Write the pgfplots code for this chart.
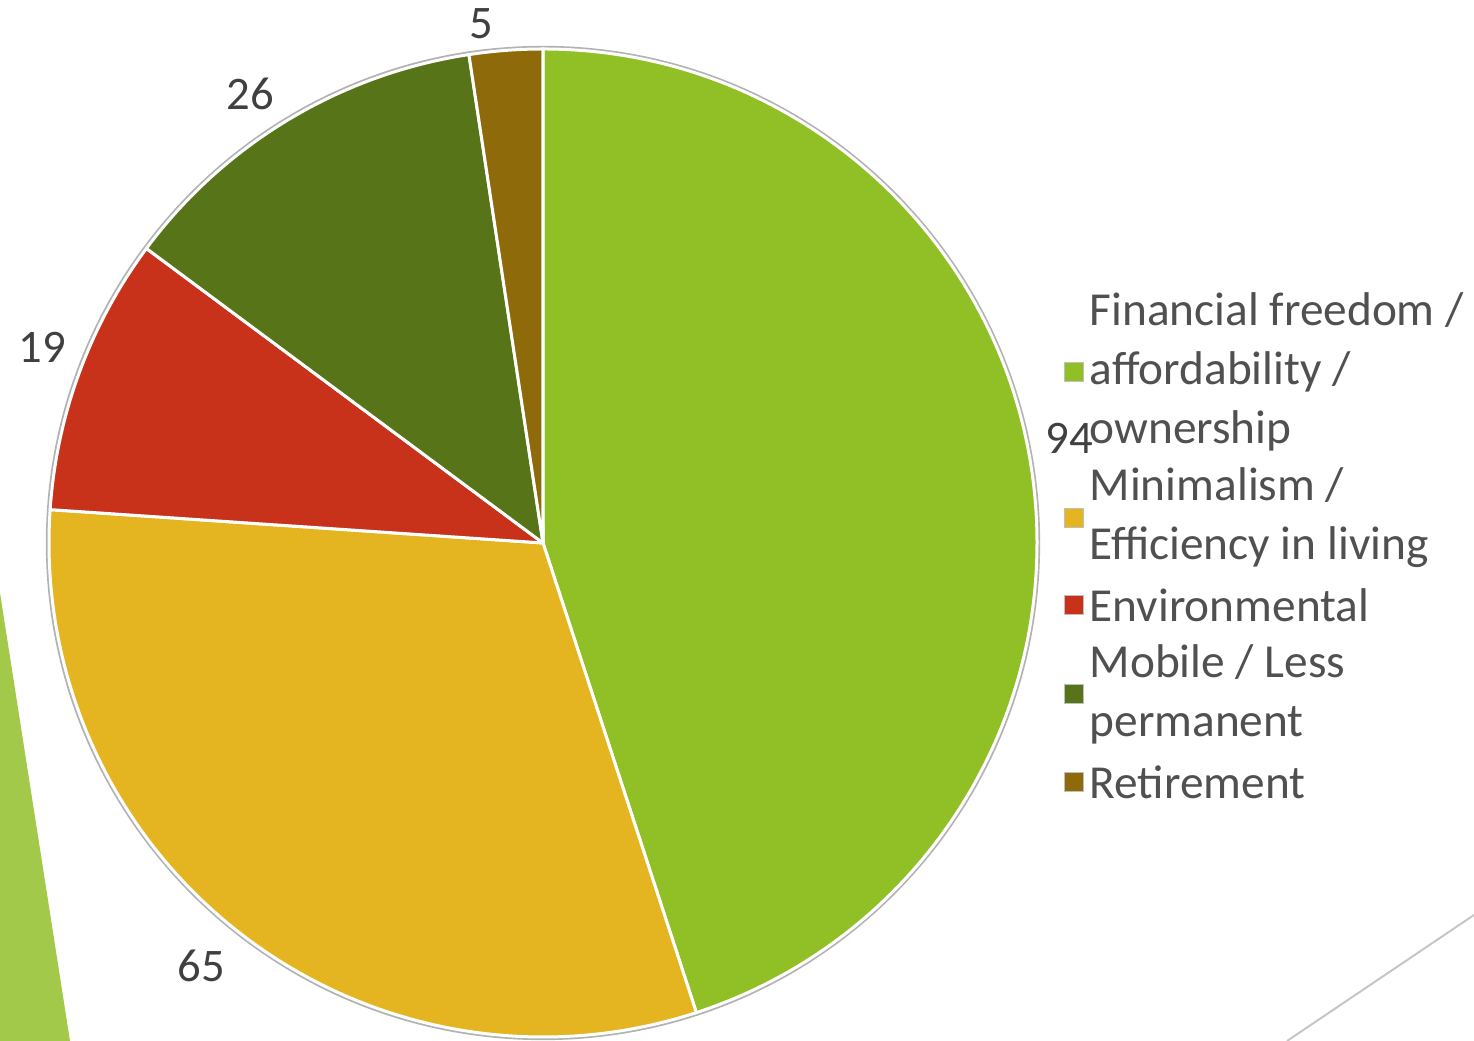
\documentclass[border=0pt]{standalone}
\usepackage{pgfplots}
\pgfplotsset{compat=1.18}
\usepackage{pgfplotstable}
\usepackage{fontspec}
\setmainfont{Carlito}
\definecolor{cA}{HTML}{90C026}
\definecolor{cB}{HTML}{E4B520}
\definecolor{cC}{HTML}{C8321A}
\definecolor{cD}{HTML}{587418}
\definecolor{cE}{HTML}{8E6A0A}
\definecolor{bgGreen}{HTML}{A2C94A}
\definecolor{txt}{HTML}{505050}
\definecolor{lab}{HTML}{404040}
\pgfplotstableread{
value lx ly
94 1069 603
65 201 75
19 42 694
26 250 947
5 481 1017
}\piedata
\def\R{148.2pt}
\begin{document}
\begin{tikzpicture}
\pgfmathsetmacro\total{0}
\foreach \i in {0,...,4}{%
  \pgfplotstablegetelem{\i}{value}\of\piedata
  \pgfmathsetmacro\t{\total+\pgfplotsretval}%
  \xdef\total{\t}}
\xdef\cur{90}
\foreach \i in {0,...,4}{%
  \pgfplotstablegetelem{\i}{value}\of\piedata
  \pgfmathsetmacro\e{\cur-\pgfplotsretval/\total*360}%
  \expandafter\xdef\csname s\i\endcsname{\cur}%
  \expandafter\xdef\csname e\i\endcsname{\e}%
  \expandafter\xdef\csname v\i\endcsname{\pgfplotsretval}%
  \pgfplotstablegetelem{\i}{lx}\of\piedata
  \expandafter\xdef\csname x\i\endcsname{\pgfplotsretval}%
  \pgfplotstablegetelem{\i}{ly}\of\piedata
  \expandafter\xdef\csname y\i\endcsname{\pgfplotsretval}%
  \xdef\cur{\e}}
\newcommand\slice[2]{%
  \fill[#2, draw=white, line width=0.9pt, line join=round] (axis cs:543,498) -- ++(\csname s#1\endcsname:\R)
    arc[start angle=\csname s#1\endcsname, end angle=\csname e#1\endcsname, radius=\R] -- cycle;
  \node[font=\fontsize{14}{16}\selectfont, text=lab, inner sep=0pt] at (axis cs:\csname x#1\endcsname,\csname y#1\endcsname) {\csname v#1\endcsname};}
\newcommand\legentry[3]{%
  \fill[#1, draw=gray!50, line width=0.4pt] (axis cs:1074,#2) ++(-2.9pt,-2.9pt) rectangle ++(5.8pt,5.8pt);
  \node[anchor=west, align=left, inner sep=0pt, text=txt, font=\fontsize{14.2}{17.7}\selectfont] at (axis cs:1089,#2) {#3};}
\begin{axis}[
  width=442.2pt, height=312.3pt, scale only axis,
  xmin=0, xmax=1474, ymin=0, ymax=1041,
  hide axis, clip=false]
\addplot[draw=none] coordinates {(0,0) (1474,1041)};
\fill[bgGreen] (axis cs:0,448) -- (axis cs:70,0) -- (axis cs:0,0) -- cycle;
\draw[gray!45, line width=0.6pt] (axis cs:1287,0) -- (axis cs:1474,126);
\draw[gray!60, line width=0.7pt] (axis cs:543,498) circle[radius=\R+0.6pt];
\slice{0}{cA}
\slice{1}{cB}
\slice{2}{cC}
\slice{3}{cD}
\slice{4}{cE}
\legentry{cA}{669}{Financial freedom /\\affordability /\\ownership}
\legentry{cB}{523}{Minimalism /\\Efficiency in living}
\legentry{cC}{436}{Environmental}
\legentry{cD}{347}{Mobile / Less\\permanent}
\legentry{cE}{259}{Retirement}
\end{axis}
\pgfresetboundingbox
\path[use as bounding box] (current axis.south west) rectangle (current axis.north east);
\end{tikzpicture}
\end{document}
